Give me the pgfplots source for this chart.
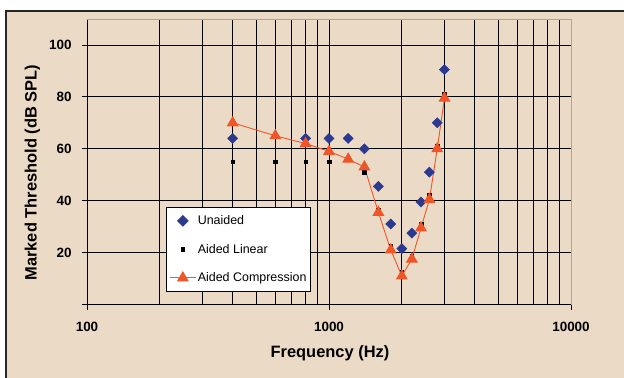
\documentclass[border=0pt]{standalone}
\usepackage{fontspec}
\setmainfont{Liberation Sans}
\usepackage{pgfplots}
\pgfplotsset{compat=1.18}
\definecolor{bg}{RGB}{235,218,198}
\definecolor{dblue}{RGB}{43,57,144}
\definecolor{orng}{RGB}{240,85,40}
\begin{document}
\begin{tikzpicture}
\useasboundingbox (0bp,0bp) rectangle (624bp,378bp);
\fill[white] (0bp,0bp) rectangle (624bp,378bp);
\fill[bg] (6bp,-10bp) rectangle (640bp,367bp);
\draw[line width=2.5bp, black!85] (6bp,-10bp) -- (6bp,367bp) -- (640bp,367bp);
\begin{axis}[at={(87bp,73.5bp)}, anchor=south west, scale only axis,
  width=484bp, height=285.5bp,
  xmode=log, log basis x=10, xmin=100, xmax=10000, ymin=0, ymax=110,
  xtick={100,1000,10000}, xticklabels={100,1000,10000},
  minor xtick={200,300,400,500,600,700,800,900,2000,3000,4000,5000,6000,7000,8000,9000},
  ytick={0,20,40,60,80,100}, yticklabels={{},20,40,60,80,100},
  grid=both,
  major grid style={black, line width=0.9bp},
  minor grid style={black, line width=0.9bp},
  axis x line*=bottom, axis y line*=left,
  axis line style={-, black, line width=0.9bp},
  tick align=outside, major tick length=5bp, minor tick length=0pt,
  tick style={black, line width=0.9bp},
  /pgf/number format/assume math mode=true,
  tick label style={font=\fontsize{13.5}{15}\selectfont\bfseries},
  yticklabel style={xshift=-7bp},
  xticklabel style={yshift=-9bp},
  every axis y label/.style={at={(axis description cs:-0.113,0.462)}, rotate=90, anchor=center},
  every axis x label/.style={at={(axis description cs:0.502,-0.170)}, anchor=center},
  label style={font=\fontsize{16.5}{18}\selectfont\bfseries},
  xlabel={Frequency (Hz)},
  ylabel={Marked Threshold (dB SPL)},
  legend style={at={(0.163,0.341)}, anchor=north west, draw=black, line width=1bp,
    fill=white, font=\fontsize{12.5}{14}\selectfont, row sep=14bp,
    inner xsep=3bp, inner ysep=6bp,
    nodes={inner xsep=1.5bp}},
  legend cell align=left,
  legend image code/.code={\draw[mark repeat=2,mark phase=2] plot coordinates {(0bp,0bp) (13bp,0bp) (26bp,0bp)};},
  after end axis/.code={\draw[gray!70, line width=0.9bp] (rel axis cs:0,1) -- (rel axis cs:1,1) -- (rel axis cs:1,0);},
]
\addplot[only marks, mark=square*, mark size=3.6bp, mark options={rotate=45, draw=dblue, fill=dblue}]
  coordinates {(400,64) (800,64) (1000,64) (1200,64) (1400,60) (1600,45.5) (1800,31) (2000,21.5) (2200,27.5) (2400,39.5) (2600,51) (2800,70) (3000,90.5)};
\addlegendentry{Unaided}
\addplot[only marks, mark=square*, mark size=1.8bp, mark options={draw=black, fill=black}]
  coordinates {(400,55) (600,55) (800,55) (1000,55) (1400,51) (1600,36.5) (1800,22.5) (2000,12.5) (2200,18.5) (2400,31) (2600,42) (2800,61) (3000,81)};
\addlegendentry{Aided Linear}
\addplot[orng, line width=0.9bp, mark=triangle*, mark size=6bp, mark options={draw=orng, fill=orng}]
  coordinates {(400,70) (600,65) (800,62) (1000,59) (1200,56) (1400,53) (1600,35.5) (1800,21) (2000,11) (2200,17.5) (2400,29.5) (2600,40.5) (2800,60) (3000,79.5)};
\addlegendentry{Aided Compression}
\end{axis}
\end{tikzpicture}
\end{document}
